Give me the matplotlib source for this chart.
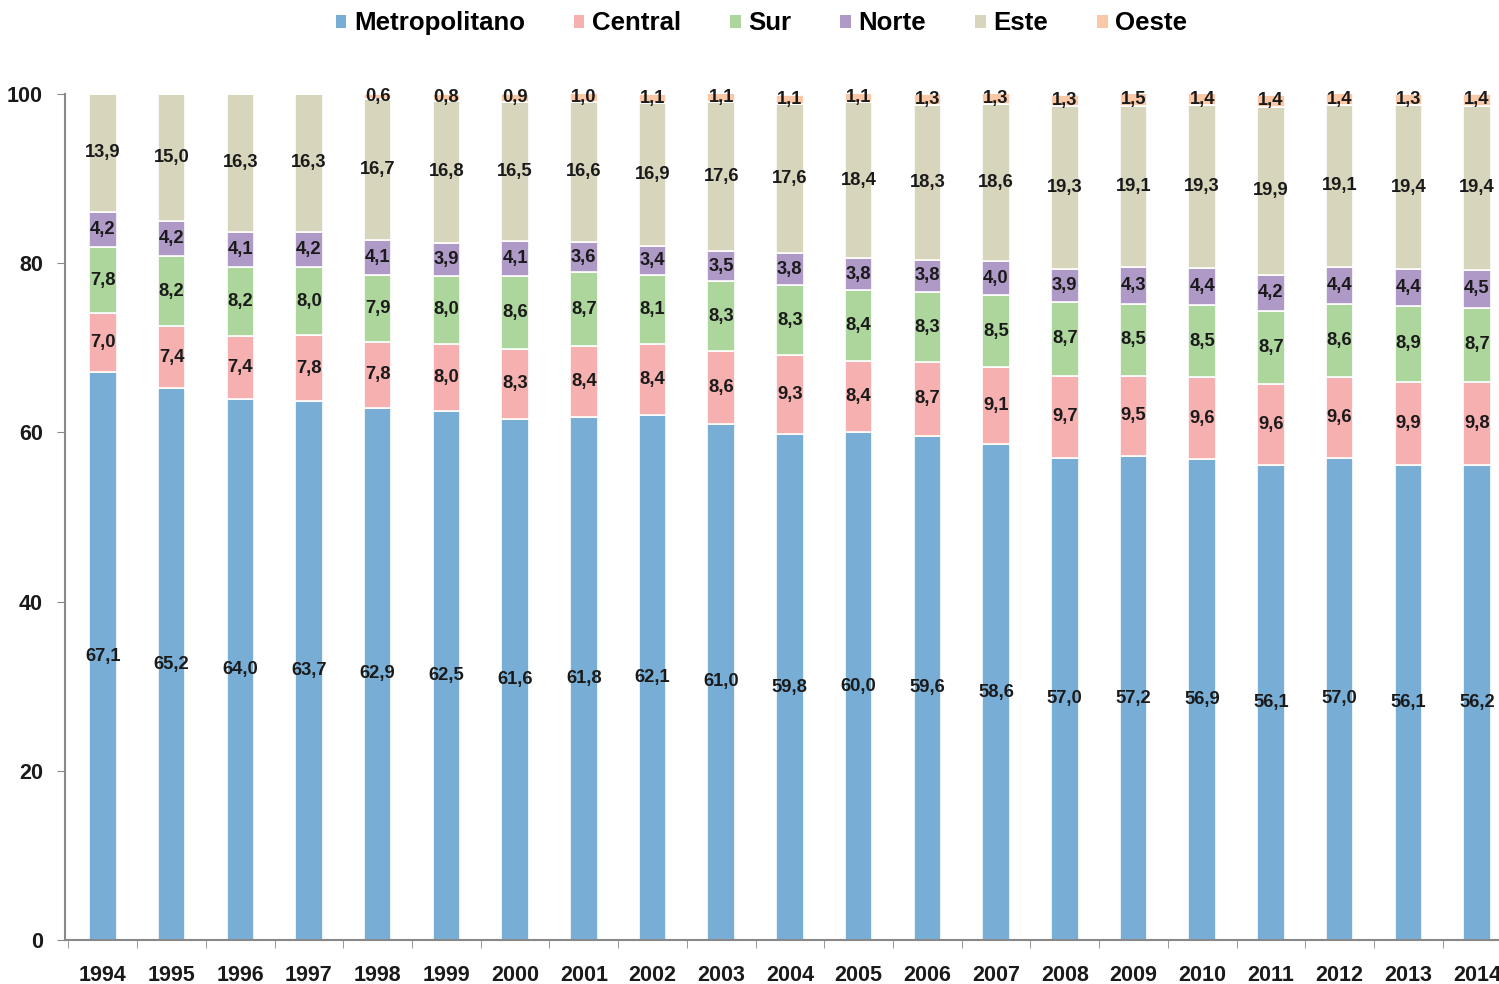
import matplotlib
matplotlib.use("Agg")
import matplotlib.pyplot as plt
from matplotlib.patches import Patch
import numpy as np

plt.rcParams['font.family'] = ['Liberation Sans', 'DejaVu Sans']
plt.rcParams['font.weight'] = 'bold'

years = [str(y) for y in range(1994, 2015)]
series = ['Metropolitano', 'Central', 'Sur', 'Norte', 'Este', 'Oeste']

metropolitano = [67.1, 65.2, 64.0, 63.7, 62.9, 62.5, 61.6, 61.8, 62.1, 61.0, 59.8,
                 60.0, 59.6, 58.6, 57.0, 57.2, 56.9, 56.1, 57.0, 56.1, 56.2]
central = [7.0, 7.4, 7.4, 7.8, 7.8, 8.0, 8.3, 8.4, 8.4, 8.6, 9.3,
           8.4, 8.7, 9.1, 9.7, 9.5, 9.6, 9.6, 9.6, 9.9, 9.8]
sur = [7.8, 8.2, 8.2, 8.0, 7.9, 8.0, 8.6, 8.7, 8.1, 8.3, 8.3,
       8.4, 8.3, 8.5, 8.7, 8.5, 8.5, 8.7, 8.6, 8.9, 8.7]
norte = [4.2, 4.2, 4.1, 4.2, 4.1, 3.9, 4.1, 3.6, 3.4, 3.5, 3.8,
         3.8, 3.8, 4.0, 3.9, 4.3, 4.4, 4.2, 4.4, 4.4, 4.5]
este = [13.9, 15.0, 16.3, 16.3, 16.7, 16.8, 16.5, 16.6, 16.9, 17.6, 17.6,
        18.4, 18.3, 18.6, 19.3, 19.1, 19.3, 19.9, 19.1, 19.4, 19.4]
oeste = [0, 0, 0, 0, 0.6, 0.8, 0.9, 1.0, 1.1, 1.1, 1.1,
         1.1, 1.3, 1.3, 1.3, 1.5, 1.4, 1.4, 1.4, 1.3, 1.4]

colors = ['#78AED6', '#F6B0B0', '#ACD69C', '#AF99C7', '#D8D5BD', '#FAC8A6']
data = [metropolitano, central, sur, norte, este, oeste]

fig = plt.figure(figsize=(14.99, 9.84), dpi=100)
ax = fig.add_axes([0.0434, 0.0447, 0.9566, 0.8598])

x = np.arange(len(years))
bottom = np.zeros(len(years))
for name, vals, c in zip(series, data, colors):
    vals = np.array(vals)
    ax.bar(x, vals, 0.4, bottom=bottom, color=c, edgecolor='white', linewidth=1.2, label=name)
    for xi, b, v in zip(x, bottom, vals):
        if v > 0:
            ax.text(xi, b + v / 2, f'{v:.1f}'.replace('.', ','), ha='center', va='center',
                    fontsize=13.2, fontweight='bold', color='#1a1a1a')
    bottom += vals

ax.set_xlim(-0.55, 20.32)
ax.set_ylim(0, 100)
ax.set_yticks([0, 20, 40, 60, 80, 100])
ax.tick_params(axis='y', length=6, color='#888888', labelsize=15.5, labelcolor='#1a1a1a', pad=10)
ax.set_xticks(x)
ax.set_xticklabels(years)
ax.set_xticks(np.arange(-0.5, 20.5, 1), minor=True)
ax.tick_params(axis='x', which='major', length=0, labelsize=15.5, labelcolor='#1a1a1a', pad=18)
ax.tick_params(axis='x', which='minor', length=6, color='#888888')
for s in ['top', 'right']:
    ax.spines[s].set_visible(False)
for s in ['left', 'bottom']:
    ax.spines[s].set_color('#888888')
    ax.spines[s].set_linewidth(1.5)

handles = [Patch(facecolor=c, edgecolor='none') for c in colors]
fig.legend(handles, series, loc='upper center', bbox_to_anchor=(0.508, 1.012), ncol=6,
           frameon=False, fontsize=18.6, handlelength=0.4, handleheight=0.4,
           handletextpad=0.3, columnspacing=1.9)

fig.savefig('out.png', dpi=100)
